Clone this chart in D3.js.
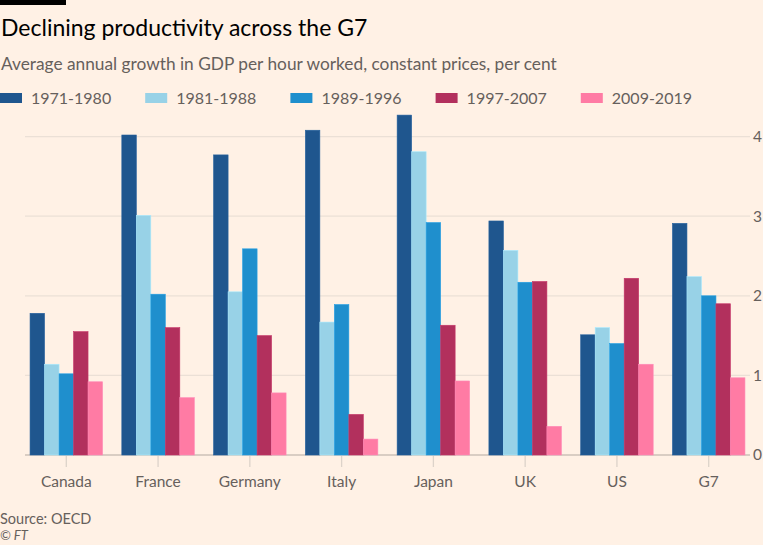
<!DOCTYPE html>
<html>
<head>
<meta charset="utf-8">
<script src="https://cdn.jsdelivr.net/npm/d3@7"></script>
<style>
  html, body { margin: 0; padding: 0; background: #FFF1E5; }
  svg { display: block; }
</style>
</head>
<body>
<svg id="chart" width="763" height="545"></svg>
<script>
const categories = ["Canada", "France", "Germany", "Italy", "Japan", "UK", "US", "G7"];
const periods = ["1971-1980", "1981-1988", "1989-1996", "1997-2007", "2009-2019"];
const s1971_1980 = [1.78, 4.02, 3.77, 4.08, 4.27, 2.94, 1.51, 2.91];
const s1981_1988 = [1.14, 3.01, 2.05, 1.67, 3.81, 2.57, 1.60, 2.24];
const s1989_1996 = [1.02, 2.02, 2.59, 1.89, 2.92, 2.17, 1.40, 2.00];
const s1997_2007 = [1.55, 1.60, 1.50, 0.51, 1.63, 2.18, 2.22, 1.90];
const s2009_2019 = [0.92, 0.72, 0.78, 0.20, 0.93, 0.36, 1.14, 0.97];
const yTicks = [0, 1, 2, 3, 4];
const colors = ["#1F568E", "#98D2E7", "#1F8FCD", "#B2305D", "#FF7BA4"];

const seriesValues = [s1971_1980, s1981_1988, s1989_1996, s1997_2007, s2009_2019];

const svg = d3.select("#chart");
const W = 763, H = 545;
const FONT = "Lato, 'Open Sans', sans-serif";

svg.append("rect").attr("width", W).attr("height", H).attr("fill", "#FFF1E5");

// top black bar
svg.append("rect").attr("x", 0).attr("y", 0).attr("width", 66).attr("height", 5).attr("fill", "#000");

svg.append("text").attr("x", 1).attr("y", 36)
  .attr("font-family", FONT).attr("font-size", 23).attr("fill", "#000")
  .text("Declining productivity across the G7");

svg.append("text").attr("x", 1).attr("y", 70)
  .attr("font-family", FONT).attr("font-size", 17.3).attr("fill", "#66605C")
  .text("Average annual growth in GDP per hour worked, constant prices, per cent");

// legend
const legend = svg.append("g");
periods.forEach((p, i) => {
  const g = legend.append("g").attr("transform", `translate(${i * 145.2},0)`);
  g.append("rect").attr("x", 0).attr("y", 93).attr("width", 22).attr("height", 10).attr("fill", colors[i]);
  g.append("text").attr("x", 31).attr("y", 104)
    .attr("font-family", FONT).attr("font-size", 16).attr("fill", "#66605C").text(p);
});

const x0 = d3.scaleBand().domain(categories).range([25, 750]).paddingInner(0.21).paddingOuter(0.055);
const x1 = d3.scaleBand().domain(periods).range([0, x0.bandwidth()]);
const y = d3.scaleLinear().domain([0, 4]).range([455, 136.6]);

// gridlines
svg.append("g").selectAll("line").data(yTicks).join("line")
  .attr("x1", 25).attr("x2", 750)
  .attr("y1", d => y(d)).attr("y2", d => y(d))
  .attr("stroke", d => d === 0 ? "#CCC1B7" : "#EBE0D6").attr("stroke-width", 1.3);

// y axis labels on right
const yAxis = d3.axisRight(y).tickValues(yTicks).tickSize(0).tickPadding(0).tickFormat(d3.format("d"));
const ya = svg.append("g").attr("transform", "translate(753,0)").call(yAxis);
ya.select(".domain").remove();
ya.selectAll("text").attr("font-family", FONT).attr("font-size", 15.5).attr("fill", "#66605C");

// bars
const groups = svg.append("g").selectAll("g").data(categories).join("g")
  .attr("transform", d => `translate(${x0(d)},0)`);
groups.selectAll("rect").data((c, ci) => periods.map((p, pi) => ({ p, v: seriesValues[pi][ci], pi })))
  .join("rect")
  .attr("x", d => x1(d.p)).attr("width", x1.bandwidth())
  .attr("y", d => y(d.v)).attr("height", d => y(0) - y(d.v))
  .attr("fill", d => colors[d.pi])
  .attr("stroke", d => d3.color(colors[d.pi]).brighter(0.3)).attr("stroke-width", 0.6);

// x axis
const xAxis = d3.axisBottom(x0).tickSize(11).tickPadding(9);
const xa = svg.append("g").attr("transform", "translate(0,456)").call(xAxis);
xa.select(".domain").remove();
xa.selectAll("line").attr("stroke", "#DDD3CA").attr("stroke-width", 1.3);
xa.selectAll("text").attr("font-family", FONT).attr("font-size", 15.5).attr("fill", "#66605C");

svg.append("text").attr("x", 0).attr("y", 524)
  .attr("font-family", FONT).attr("font-size", 14.5).attr("fill", "#66605C").text("Source: OECD");
svg.append("text").attr("x", 0).attr("y", 540)
  .attr("font-family", FONT).attr("font-size", 13).attr("font-style", "italic").attr("fill", "#66605C").text("© FT");
</script>
</body>
</html>
